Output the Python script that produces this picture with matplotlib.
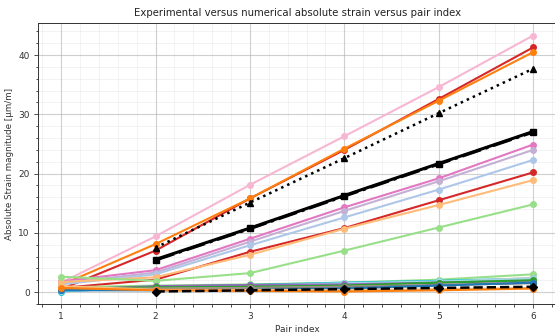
import matplotlib
matplotlib.use("Agg")
import matplotlib.pyplot as plt

pairs = [1, 2, 3, 4, 5, 6]
pairs_num = [2, 3, 4, 5, 6]

# Experimental strain magnitudes per gauge (x = pair index 1..6)
exp_colors = [
    "#f7b6d2", "#d62728", "#ff7f0e", "#e377c2", "#c5b0d5",
    "#aec7e8", "#d62728", "#ffbb78", "#98df8a",
    "#98df8a", "#17becf", "#c7c7c7", "#9edae5", "#9467bd",
    "#2ca02c", "#c49c94", "#7f7f7f", "#1f77b4", "#ffbb78", "#ff7f0e",
]
exp_values = [
    [1.6, 9.4, 18.1, 26.3, 34.6, 43.3],
    [0.5, 7.0, 15.8, 24.0, 32.6, 41.3],
    [1.2, 8.1, 15.8, 24.2, 32.3, 40.5],
    [1.8, 3.7, 9.0, 14.3, 19.2, 24.9],
    [1.5, 3.3, 8.5, 13.7, 18.7, 24.0],
    [1.3, 3.0, 7.9, 12.6, 17.3, 22.3],
    [0.7, 2.1, 6.8, 10.8, 15.5, 20.2],
    [1.7, 2.5, 6.3, 10.7, 14.7, 18.9],
    [2.6, 1.9, 3.2, 7.0, 10.9, 14.8],
    [0.8, 1.1, 1.3, 1.6, 2.1, 3.0],
    [0.1, 0.9, 1.2, 1.6, 1.9, 2.3],
    [0.5, 0.8, 1.0, 1.3, 1.7, 2.4],
    [0.2, 0.7, 1.1, 1.5, 1.8, 2.2],
    [0.4, 1.0, 1.2, 1.3, 1.6, 1.9],
    [0.6, 0.8, 0.9, 1.1, 1.6, 2.0],
    [0.5, 0.6, 0.7, 0.9, 1.2, 1.6],
    [0.4, 0.5, 0.6, 0.8, 1.2, 1.5],
    [0.3, 0.3, 0.4, 0.6, 1.1, 1.6],
    [1.0, 0.4, 0.4, 0.3, 0.5, 0.7],
    [0.7, 0.3, 0.2, 0.1, 0.3, 0.6],
]

# Numerical model results (pairs 2..6)
num_solid = [5.5, 10.8, 16.3, 21.7, 27.1]
num_dashdot = [5.4, 10.7, 16.2, 21.6, 27.0]
num_dotted = [7.5, 15.1, 22.6, 30.2, 37.7]
num_dashed = [0.1, 0.3, 0.5, 0.7, 0.9]

W, H = 555, 336
fig = plt.figure(figsize=(W / 100, H / 100), dpi=100)
left, right, top, bottom = 37.5, 556.8, 22.7, 304.3
ax = fig.add_axes([left / W, (H - bottom) / H, (right - left) / W, (bottom - top) / H])

for vals, col in zip(exp_values, exp_colors):
    ax.plot(pairs, vals, "-o", color=col, lw=1.5, ms=4)

ax.plot(pairs_num, num_solid, "-s", color="black", lw=2.2, ms=5)
ax.plot(pairs_num, num_dashdot, "-.", color="black", lw=2.2)
ax.plot(pairs_num, num_dotted, ":^", color="black", lw=1.8, ms=4)
ax.plot(pairs_num, num_dashed, "--D", color="black", lw=1.8, ms=4)

ax.minorticks_on()
ax.grid(which="major", color="#b0b0b0", alpha=0.6, lw=0.8)
ax.grid(which="minor", color="#b0b0b0", alpha=0.2, lw=0.5)
ax.set_xticks(pairs)

ax.tick_params(labelsize=6.5, length=3, width=0.6, colors="#333333", pad=2.5)
ax.tick_params(which="minor", length=1.8, width=0.5)
for s in ax.spines.values():
    s.set_linewidth(0.7)
    s.set_color("#333333")

ax.set_title("Experimental versus numerical absolute strain versus pair index",
             fontsize=7.3, color="#222222", pad=4.5)
ax.set_xlabel("Pair index", fontsize=6.5, color="#333333", labelpad=3)
ax.set_ylabel("Absolute Strain magnitude [\u00b5m/m]", fontsize=6.3, color="#333333", labelpad=3)

fig.savefig("out.png", dpi=100)
